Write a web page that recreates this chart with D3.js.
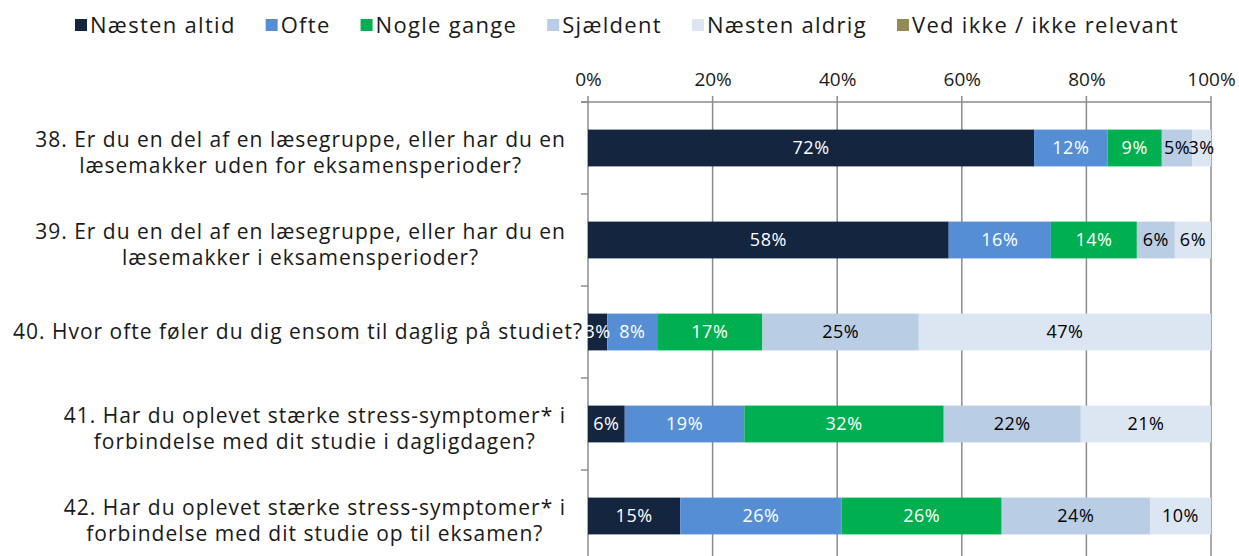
<!DOCTYPE html>
<html><head><meta charset="utf-8">
<script src="https://cdn.jsdelivr.net/npm/d3@7"></script>
<style>
html,body{margin:0;padding:0;background:#fff;}
svg{display:block;}
text{font-family:"Open Sans","DejaVu Sans",sans-serif;}
</style></head>
<body><svg id="chart" width="1239" height="556"></svg>
<script>
const categories = [
  ["38. Er du en del af en læsegruppe, eller har du en", "læsemakker uden for eksamensperioder?"],
  ["39. Er du en del af en læsegruppe, eller har du en", "læsemakker i eksamensperioder?"],
  ["40. Hvor ofte føler du dig ensom til daglig på studiet?"],
  ["41. Har du oplevet stærke stress-symptomer* i", "forbindelse med dit studie i dagligdagen?"],
  ["42. Har du oplevet stærke stress-symptomer* i", "forbindelse med dit studie op til eksamen?"]
];
const seriesNames = ["Næsten altid", "Ofte", "Nogle gange", "Sjældent", "Næsten aldrig", "Ved ikke / ikke relevant"];
const seriesColors = ["#14253F", "#558ED5", "#00B050", "#B9CDE5", "#DCE6F2", "#948A54"];
const labelColors = ["#ffffff", "#ffffff", "#ffffff", "#000000", "#000000", "#000000"];
const naestenAltid = [71.6, 57.9, 3.1, 5.9, 14.8];
const ofte         = [11.8, 16.4, 8.0, 19.2, 25.9];
const nogleGange   = [8.7, 13.8, 16.9, 32.0, 25.7];
const sjaeldent    = [4.9, 6.1, 25.1, 22.0, 23.8];
const naestenAldrig= [3.0, 5.8, 46.9, 20.9, 9.8];
const vedIkke      = [0, 0, 0, 0, 0];
const xTicks = [0, 20, 40, 60, 80, 100];

const series = [naestenAltid, ofte, nogleGange, sjaeldent, naestenAldrig, vedIkke];
const rows = categories.map((c, i) => {
  const r = {i};
  series.forEach((s, k) => r["s" + k] = s[i]);
  return r;
});
const keys = series.map((s, k) => "s" + k);
const stacked = d3.stack().keys(keys)(rows);

const svg = d3.select("#chart");
const x = d3.scaleLinear().domain([0, 100]).range([588, 1211]);
const y = d3.scaleBand().domain(d3.range(categories.length)).range([102, 562]).paddingInner(0.6).paddingOuter(0.3);
const yOuter = d3.scaleBand().domain(d3.range(categories.length)).range([102, 562]);

// gridlines
svg.append("g").selectAll("line").data(xTicks).join("line")
  .attr("x1", d => x(d)).attr("x2", d => x(d))
  .attr("y1", 96).attr("y2", 556)
  .attr("stroke", "#8c8c8c").attr("stroke-width", 1.5);

// top axis
const axisTop = d3.axisTop(x).tickValues(xTicks).tickFormat(d => d + "%").tickSize(0).tickPadding(16);
const gx = svg.append("g").attr("transform", "translate(0,102)").call(axisTop);
gx.select(".domain").remove();
gx.selectAll("text").attr("font-size", 19).attr("fill", "#1a1a1a").attr("font-family", "Open Sans");
svg.append("line").attr("x1", 581).attr("x2", x(100)).attr("y1", 102).attr("y2", 102)
  .attr("stroke", "#8c8c8c").attr("stroke-width", 1.5);

// left axis ticks at band boundaries
svg.append("g").selectAll("line").data(d3.range(categories.length)).join("line")
  .attr("x1", 581).attr("x2", 588)
  .attr("y1", d => yOuter(d)).attr("y2", d => yOuter(d))
  .attr("stroke", "#8c8c8c").attr("stroke-width", 1.5);

// bars
const gBars = svg.append("g");
stacked.forEach((layer, k) => {
  const g = gBars.append("g");
  g.selectAll("rect").data(layer).join("rect")
    .attr("x", d => x(d[0])).attr("width", d => Math.max(0, x(d[1]) - x(d[0])))
    .attr("y", (d, i) => y(i)).attr("height", y.bandwidth())
    .attr("fill", seriesColors[k]);
});
stacked.forEach((layer, k) => {
  const g = gBars.append("g");
  g.selectAll("text").data(layer.filter(d => d[1] - d[0] > 0)).join("text")
    .attr("x", d => (x(d[0]) + x(d[1])) / 2)
    .attr("y", d => y(d.data.i) + y.bandwidth() / 2)
    .attr("dy", "0.35em").attr("text-anchor", "middle")
    .attr("font-size", 18).attr("letter-spacing", 0.5).attr("fill", labelColors[k])
    .text(d => Math.round(d[1] - d[0]) + "%");
});

// category labels: block right-aligned, lines centered
const gLab = svg.append("g");
categories.forEach((lines, i) => {
  const cy = yOuter(i) + yOuter.bandwidth() / 2;
  const lh = 26;
  const t = gLab.append("text").attr("font-size", 21).attr("letter-spacing", 1).attr("fill", "#1a1a1a").attr("text-anchor", "middle");
  const spans = lines.map((l, j) => t.append("tspan").text(l)
      .attr("y", cy + (j - (lines.length - 1) / 2) * lh + (lines.length > 1 ? 5 : 0)).attr("dy", "0.35em"));
  const w = d3.max(spans, s => s.node().getComputedTextLength());
  const right = lines.length > 1 ? 566 : 583;
  spans.forEach(s => s.attr("x", right - w / 2));
});

// legend
const gLeg = svg.append("g").attr("transform", "translate(0,25)");
let lx = 75;
seriesNames.forEach((n, k) => {
  const item = gLeg.append("g").attr("transform", `translate(${lx},0)`);
  item.append("rect").attr("x", 0).attr("y", -6).attr("width", 12).attr("height", 12).attr("fill", seriesColors[k]);
  const t = item.append("text").attr("x", 15).attr("y", 0).attr("dy", "0.35em").attr("font-size", 22).attr("letter-spacing", 1.3).attr("fill", "#1a1a1a").text(n);
  lx += 15 + t.node().getComputedTextLength() + 30;
});
</script>
</body></html>
